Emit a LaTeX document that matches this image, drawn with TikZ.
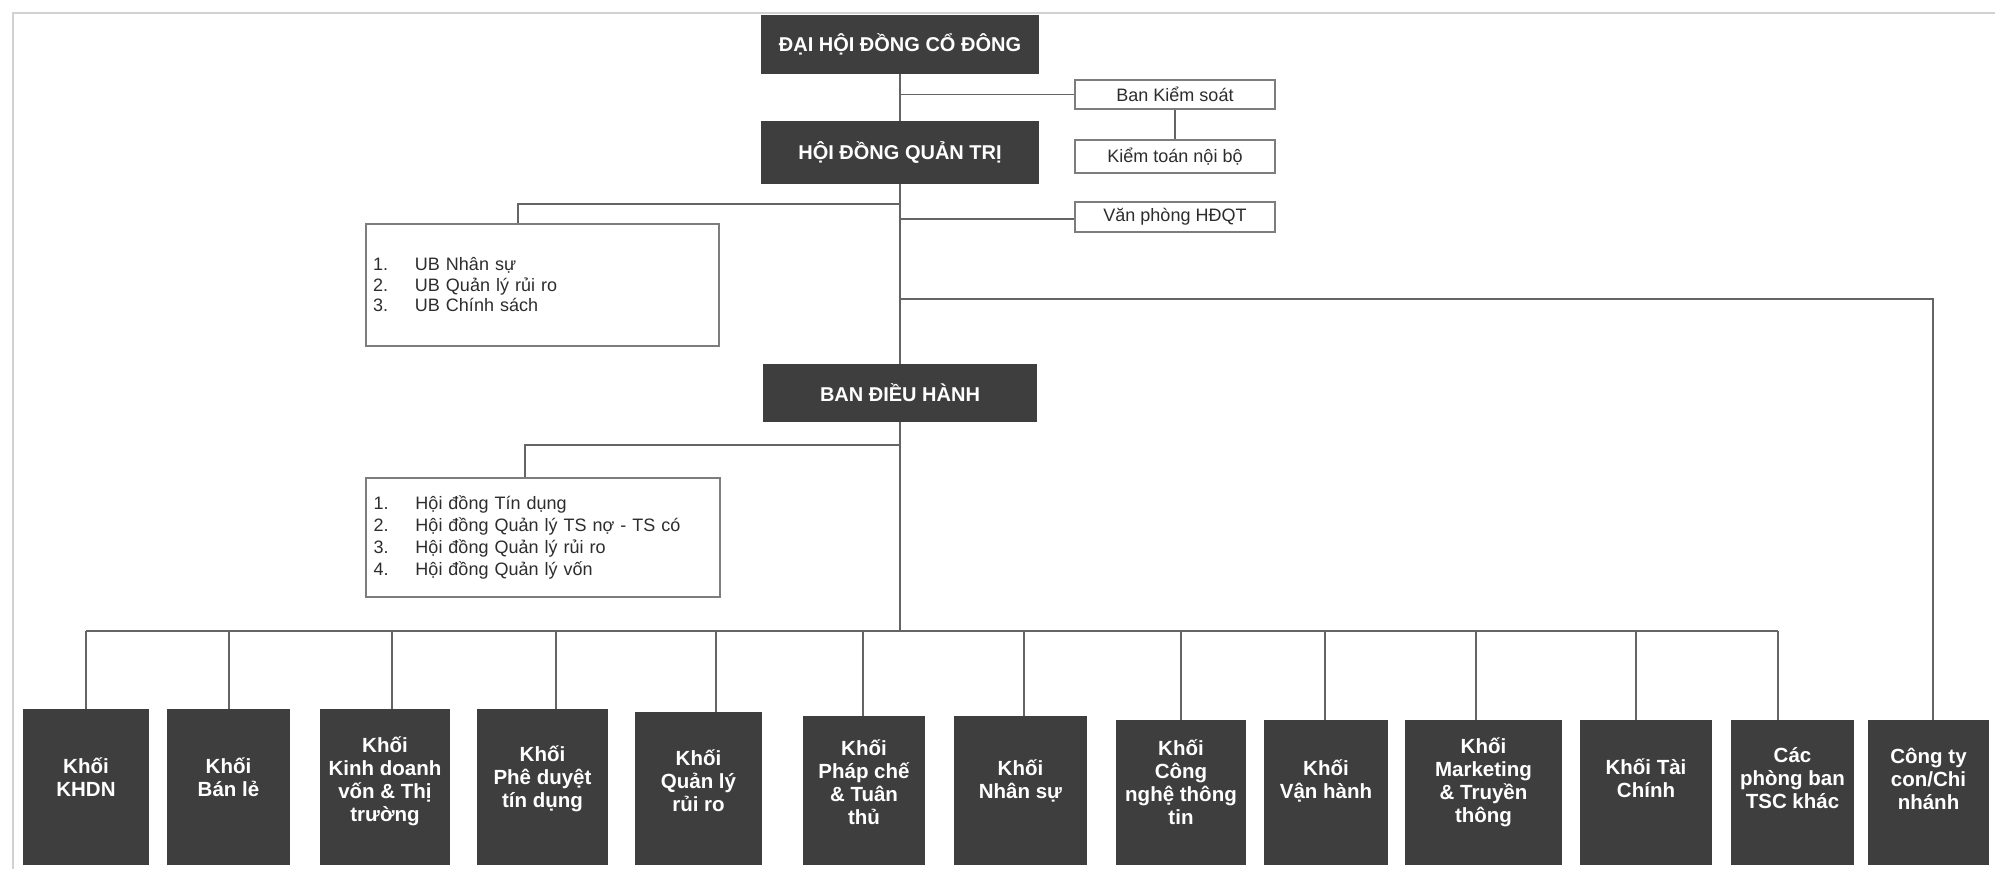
\documentclass[tikz,border=0pt]{standalone}
\usepackage{fontspec}
\setmainfont{Liberation Sans}
\definecolor{boxfill}{RGB}{62,62,62}
\definecolor{linec}{RGB}{100,100,100}
\definecolor{wborder}{RGB}{125,125,125}
\definecolor{wtext}{RGB}{45,45,45}
\tikzset{
  darkbox/.style={draw=none, fill=boxfill, text=white, inner sep=0pt,
    font=\bfseries\fontsize{20}{23}\selectfont, align=center},
  blockbox/.style={draw=none, fill=boxfill, inner sep=0pt},
  blocktext/.style={text=white, inner sep=0pt, align=center,
    font=\bfseries\fontsize{20.5}{23}\selectfont},
  whitebox/.style={draw=wborder, line width=1.8pt, fill=white, text=wtext,
    inner sep=0pt, font=\fontsize{18}{21}\selectfont},
  listbox/.style={whitebox, align=left, text width=339pt},
  conn/.style={draw=linec, line width=1.5pt},
  pageedge/.style={draw=black!18, line width=1.5pt}
}
\newcommand{\numitem}[1]{\makebox[42pt][l]{#1}}
\begin{document}
\begin{tikzpicture}[x=1pt,y=-1pt]
\useasboundingbox (0,0) rectangle (1995,869);
\draw[pageedge] (13,869) -- (13,13) -- (1995,13);

% top level
\node[darkbox, minimum width=278pt, minimum height=59pt] (dhd) at (900,44.5) {ĐẠI HỘI ĐỒNG CỔ ĐÔNG};
\node[darkbox, minimum width=278pt, minimum height=63pt] (hdqt) at (900,152.5) {HỘI ĐỒNG QUẢN TRỊ};
\node[darkbox, minimum width=274pt, minimum height=58pt] (bdh) at (900,393) {BAN ĐIỀU HÀNH};

\node[whitebox, minimum width=200pt, minimum height=29pt] (bks) at (1175,94.5) {Ban Kiểm soát};
\node[whitebox, minimum width=200pt, minimum height=33pt] (ktnb) at (1175,156.5) {Kiểm toán nội bộ};
\node[whitebox, minimum width=200pt, minimum height=30pt] (vp) at (1175,217) {Văn phòng HĐQT};

\node[listbox, minimum width=353pt, minimum height=122pt, font=\fontsize{18}{20.5}\selectfont] (ub) at (542.5,285)
  {\numitem{1.}UB Nhân sự\\ \numitem{2.}UB Quản lý rủi ro\\ \numitem{3.}UB Chính sách};
\node[listbox, minimum width=354pt, minimum height=119pt, font=\fontsize{18}{22}\selectfont] (hd) at (543,537.5)
  {\numitem{1.}Hội đồng Tín dụng\\ \numitem{2.}Hội đồng Quản lý TS nợ - TS có\\ \numitem{3.}Hội đồng Quản lý rủi ro\\ \numitem{4.}Hội đồng Quản lý vốn};

% bottom blocks
\node[blockbox, minimum width=126pt, minimum height=156pt] (b1) at (86,787) {};
\node[blockbox, minimum width=123pt, minimum height=156pt] (b2) at (228.5,787) {};
\node[blockbox, minimum width=130pt, minimum height=156pt] (b3) at (385,787) {};
\node[blockbox, minimum width=131pt, minimum height=156pt] (b4) at (542.5,787) {};
\node[blockbox, minimum width=127pt, minimum height=153pt] (b5) at (698.5,788.5) {};
\node[blockbox, minimum width=122pt, minimum height=149pt] (b6) at (864,790.5) {};
\node[blockbox, minimum width=133pt, minimum height=149pt] (b7) at (1020.5,790.5) {};
\node[blockbox, minimum width=130pt, minimum height=145pt] (b8) at (1181,792.5) {};
\node[blockbox, minimum width=124pt, minimum height=145pt] (b9) at (1326,792.5) {};
\node[blockbox, minimum width=157pt, minimum height=145pt] (b10) at (1483.5,792.5) {};
\node[blockbox, minimum width=132pt, minimum height=145pt] (b11) at (1646,792.5) {};
\node[blockbox, minimum width=123pt, minimum height=145pt] (b12) at (1792.5,792.5) {};
\node[blockbox, minimum width=121pt, minimum height=145pt] (b13) at (1928.5,792.5) {};

\node[blocktext] (t1) at ([yshift=10pt]b1.center) {Khối\\KHDN};
\node[blocktext] (t2) at ([yshift=10pt]b2.center) {Khối\\Bán lẻ};
\node[blocktext] (t3) at ([yshift=6pt]b3.center) {Khối\\Kinh doanh\\vốn \& Thị\\trường};
\node[blocktext] (t4) at ([yshift=8pt]b4.center) {Khối\\Phê duyệt\\tín dụng};
\node[blocktext] (t5) at ([yshift=8pt]b5.center) {Khối\\Quản lý\\rủi ro};
\node[blocktext] (t6) at ([yshift=8pt]b6.center) {Khối\\Pháp chế\\\& Tuân\\thủ};
\node[blocktext] (t7) at ([yshift=10pt]b7.center) {Khối\\Nhân sự};
\node[blocktext] (t8) at ([yshift=10pt]b8.center) {Khối\\Công\\nghệ thông\\tin};
\node[blocktext] (t9) at ([yshift=12pt]b9.center) {Khối\\Vận hành};
\node[blocktext] (t10) at ([yshift=10pt]b10.center) {Khối\\Marketing\\\& Truyền\\thông};
\node[blocktext] (t11) at ([yshift=14pt]b11.center) {Khối Tài\\Chính};
\node[blocktext] (t12) at ([yshift=14pt]b12.center) {Các\\phòng ban\\TSC khác};
\node[blocktext] (t13) at ([yshift=14pt]b13.center) {Công ty\\con/Chi\\nhánh};

% junction coordinates
\coordinate (j1) at (900,94.5);
\coordinate (j2) at (900,219);
\coordinate (j3) at (900,204);
\coordinate (u1) at (518,204);
\coordinate (j4) at (900,299);
\coordinate (k13) at (1933,299);
\coordinate (j5) at (900,445);
\coordinate (h1) at (525,445);
\coordinate (busE) at (900,631);
\coordinate (c1) at (86,631);
\coordinate (c2) at (229,631);
\coordinate (c3) at (392,631);
\coordinate (c4) at (556,631);
\coordinate (c5) at (716,631);
\coordinate (c6) at (863,631);
\coordinate (c7) at (1024,631);
\coordinate (c8) at (1181,631);
\coordinate (c9) at (1325,631);
\coordinate (c10) at (1476,631);
\coordinate (c11) at (1636,631);
\coordinate (c12) at (1778,631);

% connectors
\draw[conn] (dhd.south) -- (hdqt.north);
\draw[conn] (hdqt.south) -- (bdh.north);
\draw[conn] (bdh.south) -- (busE);
\draw[conn] (j1) -- (bks.west);
\draw[conn] (bks.south) -- (ktnb.north);
\draw[conn] (j2) -- (j2 -| vp.west);
\draw[conn] (j3) -- (u1) -- (u1 |- ub.north);
\draw[conn] (j4) -- (k13) -- (k13 |- b13.north);
\draw[conn] (j5) -- (h1) -- (h1 |- hd.north);
\draw[conn] (c1) -- (c12);
\foreach \i in {1,...,12} {
  \draw[conn] (c\i) -- (c\i |- b\i.north);
}
\end{tikzpicture}
\end{document}
